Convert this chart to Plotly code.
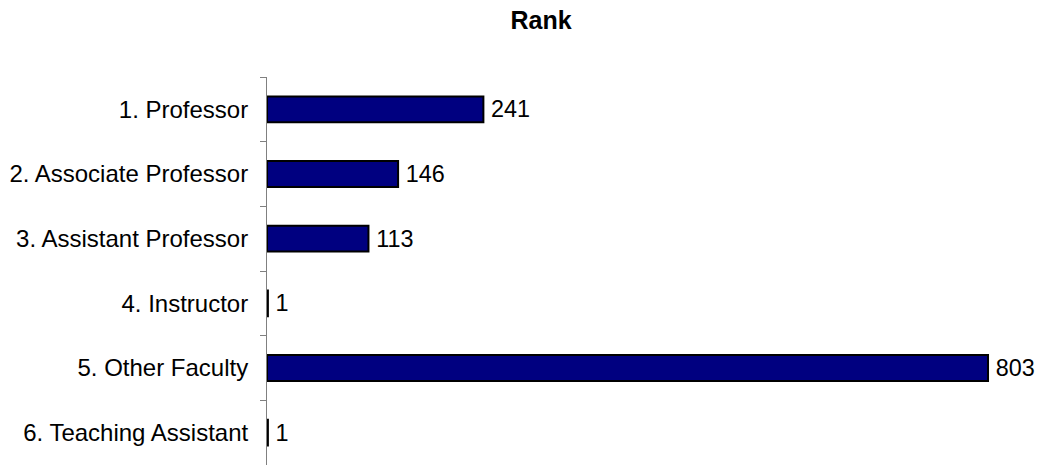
import plotly.graph_objects as go

categories = ["1. Professor", "2. Associate Professor", "3. Assistant Professor",
              "4. Instructor", "5. Other Faculty", "6. Teaching Assistant"]
values = [241, 146, 113, 1, 803, 1]

FONT = "Liberation Sans, Arial, sans-serif"
W, H = 1044, 465

fig = go.Figure(go.Bar(
    x=values, y=categories, orientation="h",
    marker=dict(color="#000080", line=dict(color="black", width=2)),
    text=["\u2009" + str(v) for v in values], textposition="outside",
    textfont=dict(family=FONT, size=23.5, color="black"),
    cliponaxis=False,
))

fig.update_layout(
    width=W, height=H,
    paper_bgcolor="white", plot_bgcolor="white",
    margin=dict(l=267, r=40, t=77, b=0, autoexpand=False),
    bargap=0.6,
    showlegend=False,
    title=dict(text="<b>Rank</b>", x=541/W, xanchor="center", y=1 - 20/H, yanchor="middle",
               font=dict(family=FONT, size=25, color="black")),
    font=dict(family=FONT, size=23.5, color="black"),
)
fig.update_xaxes(range=[0, 820.8], visible=False, automargin=False)
fig.update_yaxes(autorange="reversed", showline=True, linecolor="#808080", linewidth=1,
                 ticks="outside", tickson="boundaries", ticklen=6, tickcolor="#808080",
                 showgrid=False, ticklabelstandoff=13, automargin=False,
                 tickfont=dict(family=FONT, size=24, color="black"))

fig.write_html("out.html", config={"displayModeBar": False},
               post_script="document.body.style.margin='0';")
